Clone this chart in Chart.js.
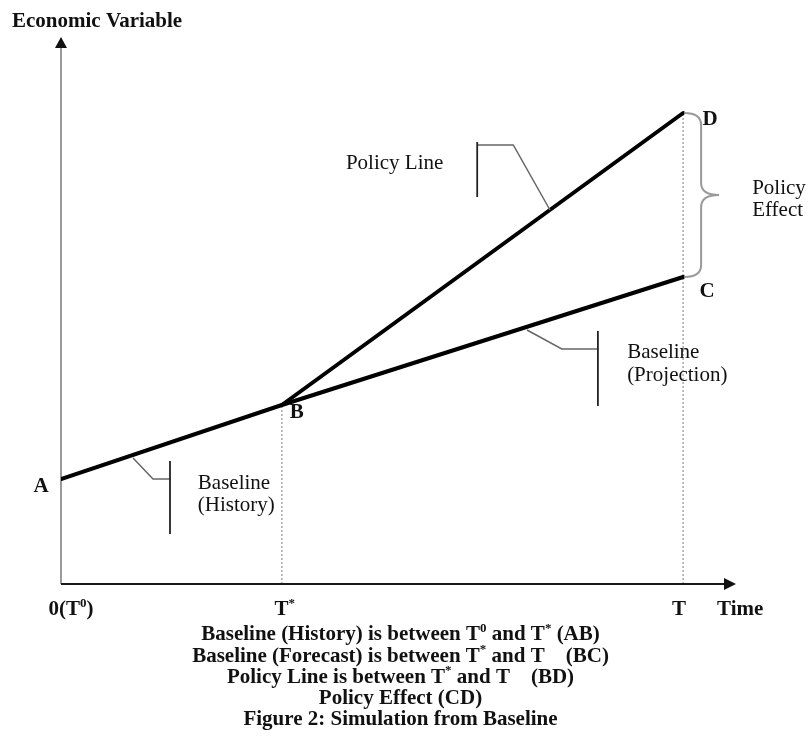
<!DOCTYPE html>
<html><head><meta charset="utf-8">
<script src="https://cdn.jsdelivr.net/npm/chart.js@4"></script>
<style>html,body{margin:0;padding:0;background:#fff;} canvas{display:block;}</style>
</head><body>
<canvas id="c" width="811" height="747"></canvas>
<script>
// ---- data ----
const tickValues = [0, 35.5, 100];
const tickLabels = ['0(T{0})', 'T{*}', 'T'];
const pointNames = ['A', 'B', 'C', 'D'];
const baselineTime = [0, 35.5, 100];
const baselineValue = [21, 35.8, 61.4];
const policyTime = [35.5, 100];
const policyValue = [35.8, 94.2];
const yAxisTitle = 'Economic Variable';
const xAxisTitle = 'Time';
const historyText = ['Baseline', '(History)'];
const projectionText = ['Baseline', '(Projection)'];
const policyText = ['Policy Line'];
const effectText = ['Policy', 'Effect'];
const captionLines = [
  'Baseline (History) is between T{0} and T{*} (AB)',
  'Baseline (Forecast) is between T{*} and T    (BC)',
  'Policy Line is between T{*} and T    (BD)',
  'Policy Effect (CD)',
  'Figure 2: Simulation from Baseline'
];

const FONT = '"Liberation Serif", "Times New Roman", serif';
function parseRich(s){
  const parts=[]; const re=/\{([^}]*)\}/g; let last=0,m;
  while((m=re.exec(s))){ if(m.index>last) parts.push([s.slice(last,m.index),false]); parts.push([m[1],true]); last=re.lastIndex; }
  if(last<s.length) parts.push([s.slice(last),false]);
  return parts;
}
function drawRich(ctx, s, x, y, align, size, bold){
  const parts=parseRich(s);
  const f=(sz)=>(bold?'bold ':'')+sz+'px '+FONT;
  let w=0;
  parts.forEach(p=>{ctx.font=f(p[1]?Math.round(size*0.6):size); w+=ctx.measureText(p[0]).width;});
  let cx = align==='center'? x-w/2 : align==='right'? x-w : x;
  ctx.textBaseline='middle'; ctx.textAlign='left';
  parts.forEach(p=>{
    ctx.font=f(p[1]?Math.round(size*0.6):size);
    ctx.fillText(p[0], cx, p[1]? y-size*0.32 : y);
    cx+=ctx.measureText(p[0]).width;
  });
}

const decor = {
  id:'decor',
  beforeDatasetsDraw(chart){
    const ctx=chart.ctx, xs=chart.scales.x, ys=chart.scales.y, a=chart.chartArea;
    const X=v=>xs.getPixelForValue(v), Y=v=>ys.getPixelForValue(v);
    const y0=Y(0), x0=X(0);
    ctx.save();
    // dotted verticals
    ctx.strokeStyle='#a8a8a8'; ctx.lineWidth=1.5; ctx.setLineDash([2,2]);
    ctx.beginPath();
    ctx.moveTo(X(baselineTime[1]), y0); ctx.lineTo(X(baselineTime[1]), Y(baselineValue[1]));
    ctx.moveTo(X(policyTime[1]), y0); ctx.lineTo(X(policyTime[1]), Y(policyValue[1]));
    ctx.stroke();
    ctx.setLineDash([]);
    // y axis
    ctx.strokeStyle='#9a9a9a'; ctx.lineWidth=2;
    ctx.beginPath(); ctx.moveTo(x0, y0); ctx.lineTo(x0, a.top+10); ctx.stroke();
    ctx.fillStyle='#111';
    ctx.beginPath(); ctx.moveTo(x0, a.top); ctx.lineTo(x0-6, a.top+11); ctx.lineTo(x0+6, a.top+11); ctx.closePath(); ctx.fill();
    // x axis
    ctx.strokeStyle='#1a1a1a'; ctx.lineWidth=2.2;
    ctx.beginPath(); ctx.moveTo(x0, y0); ctx.lineTo(a.right-10, y0); ctx.stroke();
    ctx.beginPath(); ctx.moveTo(a.right, y0); ctx.lineTo(a.right-12, y0-6); ctx.lineTo(a.right-12, y0+6); ctx.closePath(); ctx.fill();
    ctx.restore();
  },
  afterDatasetsDraw(chart){
    const ctx=chart.ctx, xs=chart.scales.x, ys=chart.scales.y, a=chart.chartArea;
    const X=v=>xs.getPixelForValue(v), Y=v=>ys.getPixelForValue(v);
    ctx.save();
    ctx.fillStyle='#111';
    // callout leaders: [diag start, elbow, bar x, bar y top, bar y bottom]
    function leader(sx,sy,ex,ey,bx,byt,byb){
      ctx.strokeStyle='#666'; ctx.lineWidth=1.5;
      ctx.beginPath(); ctx.moveTo(X(sx),Y(sy)); ctx.lineTo(X(ex),Y(ey)); ctx.lineTo(X(bx),Y(ey)); ctx.stroke();
      ctx.strokeStyle='#222'; ctx.lineWidth=1.8;
      ctx.beginPath(); ctx.moveTo(X(bx),Y(byt)); ctx.lineTo(X(bx),Y(byb)); ctx.stroke();
    }
    leader(11.58, 25.2, 14.79, 21.0, 17.52, 24.6, 10.0);
    leader(78.6, 74.8, 72.7, 87.8, 66.9, 88.4, 77.4);
    leader(74.9, 50.8, 80.5, 47.0, 86.3, 50.6, 35.6);
    // callout texts
    ctx.fillStyle='#111';
    drawRich(ctx, historyText[0], X(22.0), Y(20.2), 'left', 21, false);
    drawRich(ctx, historyText[1], X(22.0), Y(15.7), 'left', 21, false);
    drawRich(ctx, projectionText[0], X(91.0), Y(46.4), 'left', 21, false);
    drawRich(ctx, projectionText[1], X(91.0), Y(41.8), 'left', 21, false);
    drawRich(ctx, policyText[0], X(45.8), Y(84.2), 'left', 21, false);
    drawRich(ctx, effectText[0], X(111.1), Y(79.2), 'left', 21, false);
    drawRich(ctx, effectText[1], X(111.1), Y(74.8), 'left', 21, false);
    // brace between C and D
    const xd=X(policyTime[1])+1, yd=Y(policyValue[1]), yc=Y(baselineValue[2]);
    const x1=xd+17, xt=xd+35, ym=(yd+yc)/2;
    ctx.strokeStyle='#999'; ctx.lineWidth=2;
    ctx.beginPath();
    ctx.moveTo(xd, yd); ctx.quadraticCurveTo(x1, yd, x1, yd+12);
    ctx.lineTo(x1, ym-12); ctx.quadraticCurveTo(x1, ym, xt, ym);
    ctx.quadraticCurveTo(x1, ym, x1, ym+12);
    ctx.lineTo(x1, yc-12); ctx.quadraticCurveTo(x1, yc, xd, yc);
    ctx.stroke();
    // point labels
    const pts=[[baselineTime[0],baselineValue[0],-20,8],[baselineTime[1],baselineValue[1],15,8],[baselineTime[2],baselineValue[2],24,15],[policyTime[1],policyValue[1],27,7]];
    pts.forEach((p,i)=>drawRich(ctx, pointNames[i], X(p[0])+p[2], Y(p[1])+p[3], 'center', 21, true));
    // tick labels
    const tOff=[10,3,-4];
    tickValues.forEach((v,i)=>drawRich(ctx, tickLabels[i], X(v)+tOff[i], Y(0)+26, 'center', 21, true));
    drawRich(ctx, xAxisTitle, a.right-19, Y(0)+26, 'left', 21, true);
    drawRich(ctx, yAxisTitle, 12, 22, 'left', 21, true);
    // captions
    const cx=chart.width/2-5;
    captionLines.forEach((s,i)=>drawRich(ctx, s, cx, Y(0)+51+i*21.2, 'center', 21, true));
    ctx.restore();
  }
};

new Chart(document.getElementById('c'), {
  type:'scatter',
  data:{datasets:[
    {label:'Baseline', data: baselineTime.map((t,i)=>({x:t,y:baselineValue[i]})), showLine:true, borderColor:'#000', borderWidth:4, pointRadius:0, tension:0, fill:false, borderJoinStyle:'round', borderCapStyle:'round'},
    {label:'Policy Line', data: policyTime.map((t,i)=>({x:t,y:policyValue[i]})), showLine:true, borderColor:'#000', borderWidth:4, pointRadius:0, tension:0, fill:false, borderCapStyle:'round'}
  ]},
  options:{
    responsive:false, animation:false,
    layout:{padding:{left:61, right:75, top:37, bottom:163}},
    plugins:{legend:{display:false}, tooltip:{enabled:false}},
    scales:{
      x:{type:'linear', min:0, max:108.5, display:false},
      y:{type:'linear', min:0, max:109.4, display:false}
    }
  },
  plugins:[decor]
});
</script>
</body></html>
